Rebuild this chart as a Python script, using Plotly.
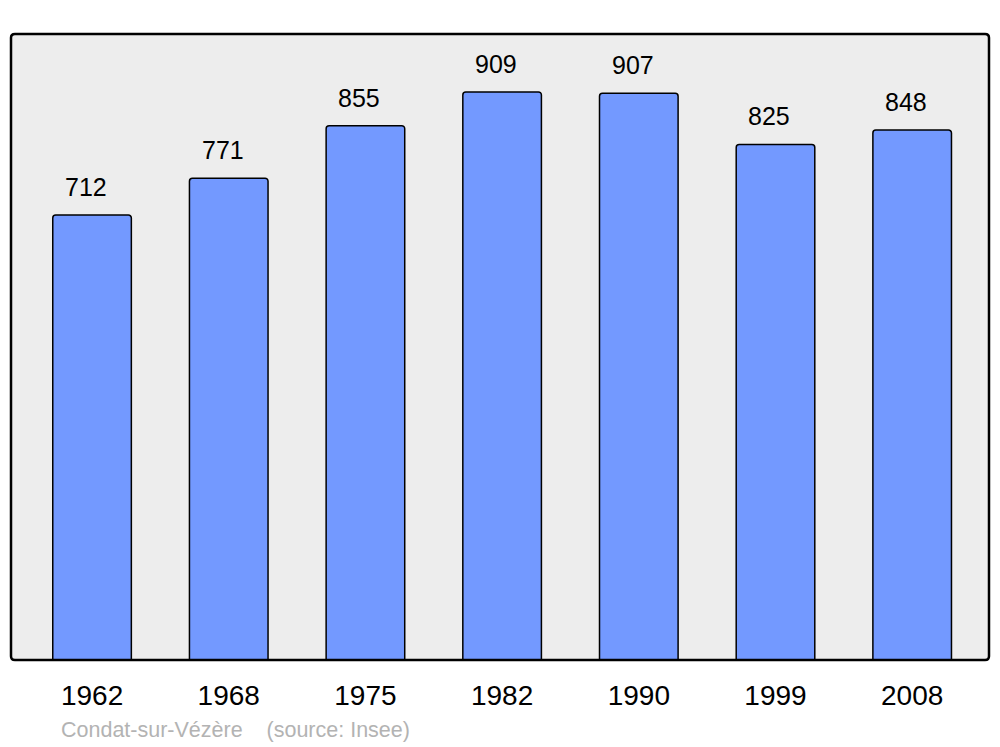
import plotly.graph_objects as go

years = ["1962", "1968", "1975", "1982", "1990", "1999", "2008"]
population = [712, 771, 855, 909, 907, 825, 848]
footnote = "Condat-sur-Vézère    (source: Insee)"

fig = go.Figure()
fig.add_trace(go.Bar(
    x=list(range(len(years))), y=population,
    width=0.575,
    marker=dict(color="#7399ff", line=dict(color="#000000", width=1.5), cornerradius=3),
    hoverinfo="skip",
))

for i, v in enumerate(population):
    fig.add_annotation(x=i, y=v, text=str(v), showarrow=False, xshift=-6, yshift=28,
                       yanchor="middle", font=dict(family="Liberation Sans, Arial", size=25, color="#000000"))

fig.add_annotation(x=0.0, y=0.0, xref="paper", yref="paper", xanchor="left", yanchor="middle",
                   text=footnote, showarrow=False, xshift=48, yshift=-70,
                   font=dict(family="Liberation Sans, Arial", size=21.5, color="#b3b3b3"))

rx, ry = 0.004, 0.006
path = (f"M {rx},0 L {1-rx},0 Q 1,0 1,{ry} L 1,{1-ry} Q 1,1 {1-rx},1 "
        f"L {rx},1 Q 0,1 0,{1-ry} L 0,{ry} Q 0,0 {rx},0 Z")
fig.add_shape(type="path", xref="paper", yref="paper", path=path,
              line=dict(color="#000000", width=2.5), layer="above")

fig.update_layout(
    width=1000, height=747,
    margin=dict(l=11, r=11, t=34, b=87),
    paper_bgcolor="#ffffff", plot_bgcolor="#ededed",
    showlegend=False,
    xaxis=dict(range=[-0.593, 6.562], tickmode="array", tickvals=list(range(len(years))),
               ticktext=years, showgrid=False, zeroline=False, showline=False,
               tickfont=dict(family="Liberation Sans, Arial", size=28, color="#000000"),
               ticks="outside", ticklen=10, tickcolor="rgba(0,0,0,0)"),
    yaxis=dict(range=[0, 1001.6], showgrid=False, zeroline=False, showticklabels=False, showline=False),
)

fig.write_html("out.html", config={"displayModeBar": False},
               post_script="document.body.style.margin='0';document.body.style.overflow='hidden';")
